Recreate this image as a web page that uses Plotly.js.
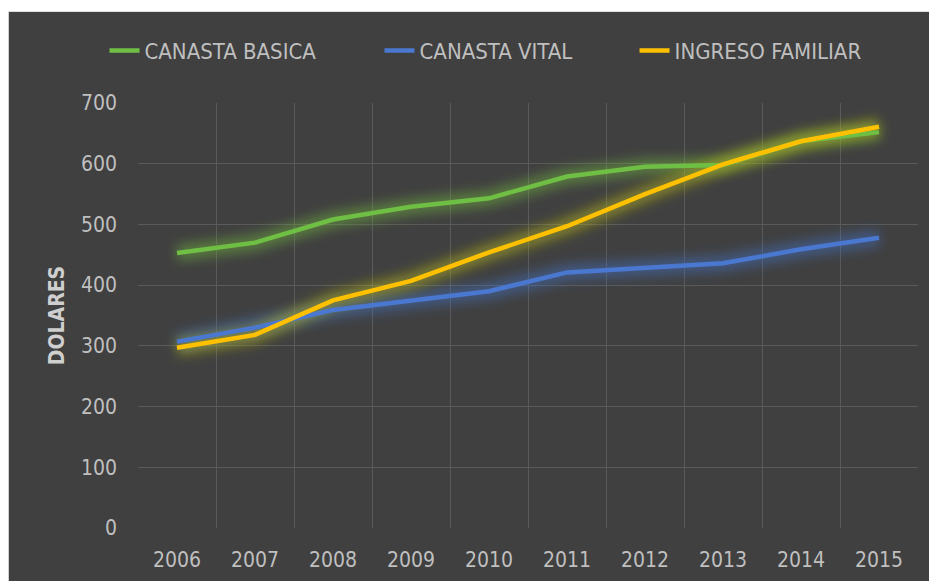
<!DOCTYPE html>
<html>
<head>
<meta charset="utf-8">
<script src="https://cdn.plot.ly/plotly-3.0.1.min.js"></script>
<style>
html,body{margin:0;padding:0;background:#ffffff;width:929px;height:581px;overflow:hidden;}
#chart{position:absolute;left:8px;top:11px;width:921px;height:570px;border-left:1px solid #d0d0d0;border-top:1px solid #e0e0e0;box-sizing:border-box;}
</style>
</head>
<body>
<svg width="0" height="0" style="position:absolute">
  <defs>
    <filter id="glowblur" filterUnits="userSpaceOnUse" x="-200" y="-200" width="2000" height="2000">
      <feGaussianBlur stdDeviation="6"/>
    </filter>
  </defs>
</svg>
<div id="chart"></div>
<script>
const years = ['2006','2007','2008','2009','2010','2011','2012','2013','2014','2015'];
const canastaBasica = [453, 470, 508, 529, 543, 579, 595, 598, 637, 652];
const canastaVital = [307, 330, 359, 375, 390, 421, 429, 436, 459, 478];
const ingresoFamiliar = [297, 318, 375, 407, 454, 497, 550, 599, 637, 661];
const yTicks = [0, 100, 200, 300, 400, 500, 600, 700];

const series = [
  {name: 'CANASTA BASICA', y: canastaBasica, color: '#6fbf44', glow: 'rgba(112,180,60,0.5)', legend: 'legend'},
  {name: 'CANASTA VITAL', y: canastaVital, color: '#4a78d0', glow: 'rgba(68,114,196,0.5)', legend: 'legend2'},
  {name: 'INGRESO FAMILIAR', y: ingresoFamiliar, color: '#ffc000', glow: 'rgba(190,190,20,0.5)', legend: 'legend3'}
];

const traces = [];
series.forEach(s => {
  traces.push({x: years, y: s.y, type: 'scatter', mode: 'lines', showlegend: false, hoverinfo: 'skip',
    line: {color: s.glow, width: 16}});
});
series.forEach(s => {
  traces.push({x: years, y: s.y, type: 'scatter', mode: 'lines', name: s.name, legend: s.legend,
    line: {color: s.color, width: 4.5}});
});

const fontFam = '"DejaVu Sans Condensed", "DejaVu Sans", sans-serif';
function leg(x) {
  return {orientation: 'h', xref: 'container', yref: 'container', x: x, xanchor: 'left',
    y: 0.932, yanchor: 'middle',
    font: {family: fontFam, size: 22, color: '#bfbfbf'}, bgcolor: 'rgba(0,0,0,0)'};
}
const layout = {
  width: 921, height: 570,
  paper_bgcolor: '#404040', plot_bgcolor: '#404040',
  margin: {l: 129, r: 12, t: 91, b: 54, autoexpand: false},
  font: {family: fontFam, color: '#bfbfbf', size: 21},
  showlegend: true,
  legend: leg(0.1037),
  legend2: leg(0.4023),
  legend3: leg(0.6792),
  xaxis: {type: 'category', range: [-0.5, 9.5], tickson: 'boundaries', showgrid: true,
    gridcolor: '#5a5a5a', gridwidth: 1, ticks: '', zeroline: false, showline: false,
    ticklabelstandoff: 17, tickfont: {family: fontFam, size: 21, color: '#bfbfbf'}},
  yaxis: {range: [0, 700], tickvals: yTicks, showgrid: true, gridcolor: '#5a5a5a', gridwidth: 1,
    zeroline: false, ticks: '', ticklabelstandoff: 20,
    tickfont: {family: fontFam, size: 21, color: '#bfbfbf'},
    title: {text: '<b>DOLARES</b>', standoff: 10, font: {family: fontFam, size: 21, color: '#cfcfcf'}}}
};

Plotly.newPlot('chart', traces, layout, {displayModeBar: false, staticPlot: true}).then(() => {
  const tr = document.querySelectorAll('#chart .scatterlayer .trace');
  for (let i = 0; i < 3 && i < tr.length; i++) {
    tr[i].querySelectorAll('path').forEach(p => p.setAttribute('filter', 'url(#glowblur)'));
  }
});
</script>
</body>
</html>
